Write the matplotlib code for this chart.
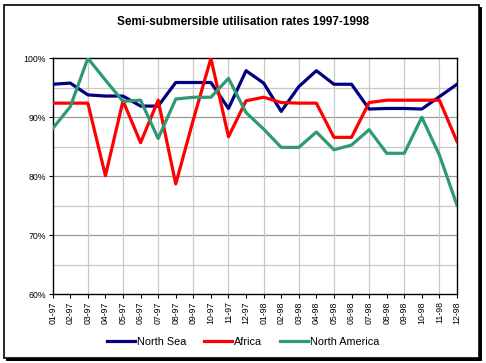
import matplotlib
matplotlib.use("Agg")
from matplotlib import pyplot as plt
from matplotlib.patches import Rectangle
import matplotlib.ticker as plticker
import numpy as np

plt.rcParams["font.family"] = ["Liberation Sans", "DejaVu Sans"]

months = ["01-97", "02-97", "03-97", "04-97", "05-97", "06-97", "07-97", "08-97",
          "09-97", "10-97", "11-97", "12-97", "01-98", "02-98", "03-98", "04-98",
          "05-98", "06-98", "07-98", "08-98", "09-98", "10-98", "11-98", "12-98"]

north_sea = [95.6, 95.8, 93.8, 93.6, 93.6, 91.9, 91.9, 95.9, 95.9, 95.9, 91.5, 97.9,
             95.8, 91.0, 95.2, 97.9, 95.6, 95.6, 91.4, 91.5, 91.5, 91.4, 93.5, 95.6]
africa = [92.4, 92.4, 92.4, 80.1, 92.8, 85.7, 92.9, 78.7, 89.6, 100.0, 86.7, 92.8,
          93.4, 92.5, 92.4, 92.4, 86.6, 86.6, 92.5, 92.9, 92.9, 92.9, 92.9, 85.9]
north_america = [88.1, 91.8, 100.0, 96.3, 92.7, 92.9, 86.4, 93.1, 93.4, 93.4, 96.6, 90.8,
                 88.0, 84.9, 84.9, 87.5, 84.5, 85.3, 87.9, 83.9, 83.9, 90.0, 83.6, 75.1]

W, H = 486, 363
fig = plt.figure(figsize=(W / 100, H / 100), dpi=100)
fig.patch.set_facecolor("white")

# frame with drop shadow
fig.patches.append(Rectangle((6 / W, 1 - 361 / H), 476 / W, 354 / H, transform=fig.transFigure,
                             facecolor="black", edgecolor="none", zorder=-2))
fig.patches.append(Rectangle((3.5 / W, 1 - 357.5 / H), 475 / W, 353 / H, transform=fig.transFigure,
                             facecolor="white", edgecolor="black", linewidth=1.2, zorder=-1))

ax = fig.add_axes([52.7 / W, 1 - 294.3 / H, (457 - 52.7) / W, (294.3 - 58.3) / H])
ax.set_zorder(2)
ax.set_facecolor("white")
x = np.arange(len(months))

ax.plot(x, north_sea, color="#000080", lw=2.3, label="North Sea", zorder=3)
ax.plot(x, africa, color="#FF0000", lw=2.3, label="Africa", zorder=3)
ax.plot(x, north_america, color="#2E9A73", lw=2.3, label="North America", zorder=3)

ax.set_xlim(0, len(months) - 1)
ax.set_ylim(60, 100)
ax.set_xticks(x)
ax.set_xticklabels(months, rotation=90, fontsize=6.3)
ax.yaxis.set_major_locator(plticker.MultipleLocator(10))
ax.yaxis.set_major_formatter(plticker.FuncFormatter(lambda v, p: "%d%%" % v))
ax.tick_params(axis="y", labelsize=6.3, length=3, width=0.8, pad=2)
ax.tick_params(axis="x", length=3, width=0.8, pad=2)

# grid: darker major, lighter minor, vertical every two months
for v in [70, 80, 90]:
    ax.axhline(v, color="#999999", lw=0.9, zorder=1)
for v in [65, 75, 85, 95]:
    ax.axhline(v, color="#C8C8C8", lw=0.9, zorder=1)
for i in range(2, len(months) - 1, 2):
    ax.axvline(i, color="#C8C8C8", lw=0.9, zorder=1)

for s in ax.spines.values():
    s.set_linewidth(1.0)
    s.set_color("black")

fig.text(0.5, 1 - 22 / H, "Semi-submersible utilisation rates 1997-1998",
         ha="center", va="center", fontsize=8.5, fontweight="bold", zorder=5)

fig.legend(loc="center", bbox_to_anchor=(0.5, 1 - 342 / H), ncol=3, frameon=False,
           fontsize=7.8, handlelength=2.6, handletextpad=0.2, columnspacing=1.6)

fig.savefig("out.png", dpi=100)
